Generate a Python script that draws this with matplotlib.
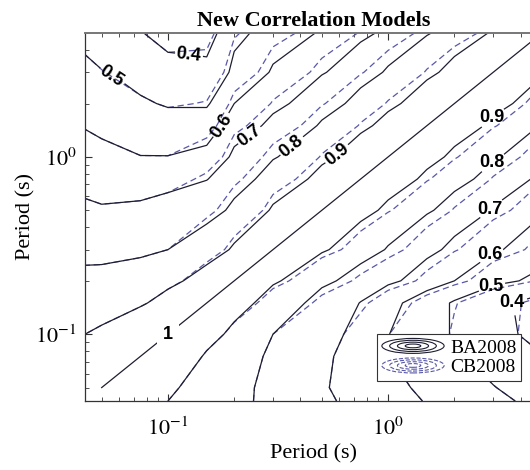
import numpy as np
import matplotlib
matplotlib.use("Agg")
import matplotlib.pyplot as plt
from matplotlib.lines import Line2D
from matplotlib.patches import Ellipse
from matplotlib.legend_handler import HandlerBase

# ---------------- data ----------------
periods = [0.042, 0.05, 0.075, 0.1, 0.15, 0.2, 0.3, 0.5, 0.75, 1.0, 1.5, 2.0, 3.0, 5.0]

# correlation coefficients, upper triangle, row i starts at column i
ba2008_rows = [
    [1.00, 0.980, 0.933, 0.900, 0.854, 0.821, 0.774, 0.715, 0.670, 0.638, 0.594, 0.564, 0.521, 0.467],
    [1.00, 0.949, 0.913, 0.861, 0.824, 0.773, 0.708, 0.659, 0.625, 0.578, 0.547, 0.503, 0.447],
    [1.00, 0.955, 0.891, 0.843, 0.782, 0.717, 0.653, 0.602, 0.548, 0.511, 0.463, 0.405],
    [1.00, 0.930, 0.879, 0.800, 0.734, 0.668, 0.602, 0.536, 0.491, 0.433, 0.359],
    [1.00, 0.939, 0.855, 0.762, 0.697, 0.627, 0.544, 0.489, 0.420, 0.360],
    [1.00, 0.912, 0.820, 0.759, 0.719, 0.652, 0.600, 0.522, 0.475],
    [1.00, 0.911, 0.842, 0.793, 0.724, 0.676, 0.611, 0.545],
    [1.00, 0.930, 0.880, 0.811, 0.762, 0.693, 0.611],
    [1.00, 0.950, 0.880, 0.831, 0.762, 0.676],
    [1.00, 0.930, 0.880, 0.811, 0.724],
    [1.00, 0.950, 0.880, 0.793],
    [1.00, 0.930, 0.842],
    [1.00, 0.911],
    [1.00],
]
cb2008_rows = [
    [1.00, 0.980, 0.933, 0.900, 0.854, 0.821, 0.774, 0.715, 0.670, 0.638, 0.594, 0.564, 0.521, 0.467],
    [1.00, 0.949, 0.913, 0.861, 0.824, 0.773, 0.708, 0.659, 0.625, 0.578, 0.547, 0.503, 0.447],
    [1.00, 0.955, 0.891, 0.843, 0.782, 0.717, 0.653, 0.602, 0.548, 0.511, 0.463, 0.405],
    [1.00, 0.930, 0.879, 0.800, 0.734, 0.668, 0.602, 0.536, 0.491, 0.433, 0.359],
    [1.00, 0.942, 0.865, 0.780, 0.718, 0.648, 0.562, 0.505, 0.432, 0.370],
    [1.00, 0.922, 0.842, 0.785, 0.745, 0.678, 0.625, 0.548, 0.490],
    [1.00, 0.925, 0.870, 0.825, 0.756, 0.706, 0.640, 0.572],
    [1.00, 0.944, 0.905, 0.843, 0.795, 0.725, 0.642],
    [1.00, 0.960, 0.905, 0.862, 0.795, 0.706],
    [1.00, 0.944, 0.905, 0.843, 0.756],
    [1.00, 0.960, 0.905, 0.825],
    [1.00, 0.944, 0.870],
    [1.00, 0.925],
    [1.00],
]
levels = [0.4, 0.5, 0.6, 0.7, 0.8, 0.9]
series_names = ["BA2008", "CB2008"]
diag_label = "1"
diag_label_period = 0.1
# where the contour labels sit (period x, period y)
label_spots_x = [0.123, 0.0534, 0.178, 0.224, 0.351, 0.574, 2.97, 2.97, 2.97, 2.99, 2.91, 3.47]
label_spots_y = [3.42, 2.64, 1.47, 1.418, 1.21, 1.053, 1.66, 0.925, 0.491, 0.267, 0.188, 0.155]
title = "New Correlation Models"
xlabel = "Period (s)"
ylabel = "Period (s)"

# ---------------- styling ----------------
plt.rcParams["font.family"] = ["Liberation Serif", "DejaVu Serif"]
plt.rcParams["mathtext.fontset"] = "stix"

BA_COLOR = "#1e1e30"
CB_COLOR = "#5858a8"


def full_matrix(rows):
    n = len(rows)
    m = np.zeros((n, n))
    for i, r in enumerate(rows):
        for k, v in enumerate(r):
            m[i, i + k] = v
            m[i + k, i] = v
    return m


Z_ba = full_matrix(ba2008_rows)
Z_cb = full_matrix(cb2008_rows)
P = np.array(periods)

fig = plt.figure(figsize=(5.3, 4.7), dpi=100)
ax = fig.add_axes([85 / 530, 69 / 470, 457 / 530, 368 / 470])
ax.set_xscale("log")
ax.set_yscale("log")

cs_cb = ax.contour(P, P, Z_cb, levels=levels, colors=CB_COLOR,
                   linewidths=0.9, linestyles=[(0, (5, 3))])
cs_ba = ax.contour(P, P, Z_ba, levels=levels, colors=BA_COLOR,
                   linewidths=0.9, linestyles="solid")
ax.plot(P[1:], P[1:], color=BA_COLOR, lw=0.9)

spots = list(zip(label_spots_x, label_spots_y))
texts = ax.clabel(cs_ba, levels, fmt="%.1f", manual=spots, inline=True,
                  inline_spacing=3, fontsize=13)
for t in texts:
    t.set_family(["Liberation Sans", "DejaVu Sans"])
    t.set_weight("bold")
    t.set_color("black")
    x, y = t.get_position()
    if x > 2.0:
        t.set_rotation(0)

ax.text(diag_label_period, diag_label_period, diag_label, ha="center", va="center",
        fontsize=13, fontweight="bold", family=["Liberation Sans", "DejaVu Sans"],
        bbox=dict(facecolor="white", edgecolor="none", pad=4))

ax.set_xlim(0.042, 5.0)
ax.set_ylim(0.042, 5.0)

for sp in ax.spines.values():
    sp.set_color("#333333")
    sp.set_linewidth(0.9)
ax.spines["top"].set_color("#777777")
ax.spines["top"].set_linewidth(1.4)
ax.tick_params(which="both", direction="in", top=True, right=True, colors="#333333",
               labelcolor="black", labelsize=16)
ax.tick_params(which="major", length=5)
ax.tick_params(which="minor", length=3)
ax.tick_params(axis="x", which="major", pad=12)
ax.tick_params(axis="y", which="major", pad=6)
ax.set_xticks([0.1, 1.0])
ax.set_yticks([0.1, 1.0])
ax.set_xticklabels([r"$10^{-1}$", r"$10^{0}$"])
ax.set_yticklabels([r"$10^{-1}$", r"$10^{0}$"])

ax.set_title(title, fontsize=16, fontweight="bold", pad=5)
ax.set_xlabel(xlabel, fontsize=16, labelpad=3)
ax.set_ylabel(ylabel, fontsize=16, labelpad=0)


class HandlerRings(HandlerBase):
    def create_artists(self, legend, orig_handle, xdescent, ydescent, width,
                       height, fontsize, trans):
        cx = width / 2 - xdescent
        cy = height / 2 - ydescent
        arts = []
        for f in [1.0, 0.75, 0.5, 0.25]:
            e = Ellipse((cx, cy), width * f, height * 1.1 * f, fill=False,
                        edgecolor=orig_handle.get_color(),
                        linestyle=orig_handle.get_linestyle(), lw=0.8,
                        transform=trans)
            arts.append(e)
        return arts


h_ba = Line2D([], [], color=BA_COLOR, ls="-")
h_cb = Line2D([], [], color=CB_COLOR, ls="--")
leg = ax.legend([h_ba, h_cb], series_names, loc="lower left",
                bbox_to_anchor=(0.639, 0.054), borderaxespad=0,
                handler_map={Line2D: HandlerRings()}, fontsize=14,
                fancybox=False, framealpha=1, edgecolor="#333333",
                handlelength=3.2, handletextpad=0.3, borderpad=0.25,
                labelspacing=0.1)
leg.get_frame().set_linewidth(0.8)

fig.savefig("out.png", dpi=100)
